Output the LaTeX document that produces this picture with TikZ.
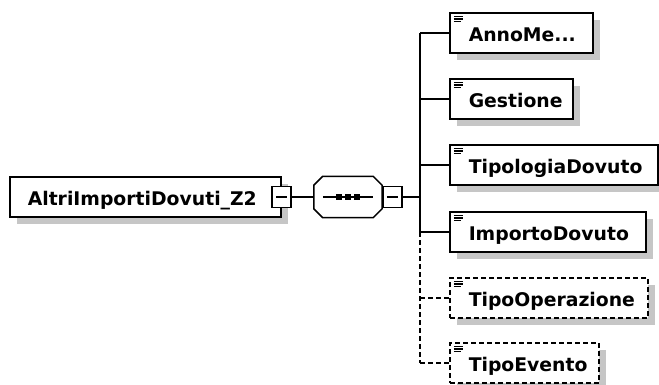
\documentclass[tikz,border=0pt]{standalone}
\usepackage{fontspec}
\setsansfont{DejaVu Sans}
\usetikzlibrary{positioning, shadows, calc}
\definecolor{xsdShadow}{HTML}{C6C6C6}
\tikzset{
  elemBox/.style={rectangle, draw=black, line width=1.5pt, fill=white, inner ysep=0pt,
                  minimum height=40pt, text height=18pt, text depth=1.5pt, align=left,
                  font=\sffamily\bfseries\fontsize{18.8}{22}\selectfont,
                  drop shadow={shadow xshift=7pt, shadow yshift=-7pt, fill=xsdShadow, opacity=1}},
  leafBox/.style={elemBox, anchor=west, inner xsep=19pt, text width=#1,
                  path picture={\draw[solid, line width=1.2pt]
                    ([shift={(4pt,-3.5pt)}]path picture bounding box.north west) -- ++(9pt,0pt)
                    ([shift={(4pt,-6pt)}]path picture bounding box.north west) -- ++(9pt,0pt)
                    ([shift={(4pt,-8.5pt)}]path picture bounding box.north west) -- ++(7pt,0pt);}},
  optBox/.style={leafBox=#1, dash pattern=on 5pt off 3pt},
  minusBox/.style={rectangle, draw=black, line width=1.5pt, fill=white, inner sep=0pt,
                   minimum width=19pt, minimum height=21pt,
                   path picture={\draw[line width=1.2pt]
                     ([xshift=4pt]path picture bounding box.west) -- ([xshift=-4pt]path picture bounding box.east);}},
  seqArea/.style={rectangle, inner sep=0pt, minimum width=68pt, minimum height=41pt},
  octo/.style={draw=black, line width=1.5pt, fill=white},
  link/.style={line width=1.6pt},
  optLink/.style={line width=1.6pt, dash pattern=on 5pt off 3pt},
}

\begin{document}
\begin{tikzpicture}[x=1pt, y=-1pt]
  \useasboundingbox (0,0) rectangle (659,385);
  % root element and its sequence
  \node[elemBox, anchor=west, inner xsep=18pt, text width=235pt] (root) at (9,197) {AltriImportiDovuti\_Z2};
  \node[minusBox] (rootMinus) at (root.east) {};
  \node[seqArea, right=22pt of rootMinus] (seq) {};
  \fill[xsdShadow, shift={(7,7)}] ([xshift=9pt]seq.north west) -- ([xshift=-9pt]seq.north east)
    -- ([yshift=-9pt]seq.north east) -- ([yshift=9pt]seq.south east) -- ([xshift=-9pt]seq.south east)
    -- ([xshift=9pt]seq.south west) -- ([yshift=9pt]seq.south west) -- ([yshift=-9pt]seq.north west) -- cycle;
  \draw[octo] ([xshift=9pt]seq.north west) -- ([xshift=-9pt]seq.north east)
    -- ([yshift=-9pt]seq.north east) -- ([yshift=9pt]seq.south east) -- ([xshift=-9pt]seq.south east)
    -- ([xshift=9pt]seq.south west) -- ([yshift=9pt]seq.south west) -- ([yshift=-9pt]seq.north west) -- cycle;
  \draw[link] ([xshift=-25pt]seq.center) -- ([xshift=25pt]seq.center);
  \foreach \dx in {-9,0,9}
    \fill ($(seq.center)+(\dx-3,-3)$) rectangle ++(6,6);
  \node[minusBox, right=0pt of seq] (seqMinus) {};
  \coordinate (bus) at (420,197);
  % children
  \node[leafBox=105pt] (anno)    at (449,33)  {AnnoMe...};
  \node[leafBox=85pt]  (gest)    at (449,99)  {Gestione};
  \node[leafBox=170pt] (tipol)   at (449,165) {TipologiaDovuto};
  \node[leafBox=158pt] (importo) at (449,232) {ImportoDovuto};
  \node[optBox=160pt]  (operaz)  at (449,298) {TipoOperazione};
  \node[optBox=111pt]  (evento)  at (449,363) {TipoEvento};
  % connectors
  \draw[link] (rootMinus) -- (seq); \draw[link] (seqMinus) -- (bus);
  \draw[link] (anno.west -| bus) -- (importo.west -| bus);
  \draw[optLink] (importo.west -| bus) -- (evento.west -| bus);
  \foreach \c in {anno, gest, tipol, importo}
    \draw[link] (\c.west -| bus) -- (\c.west);
  \foreach \c in {operaz, evento}
    \draw[optLink] (\c.west -| bus) -- (\c.west);
\end{tikzpicture}
\end{document}
